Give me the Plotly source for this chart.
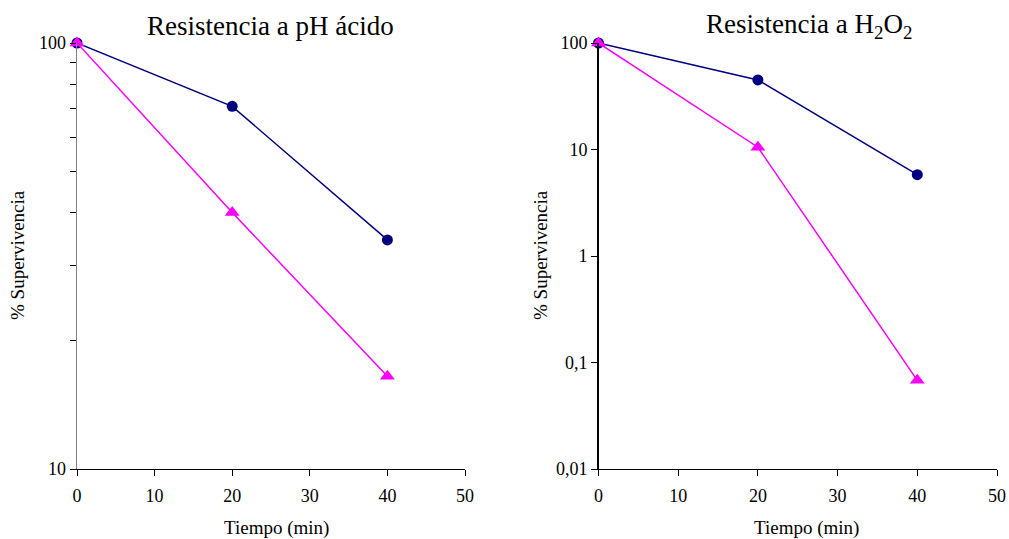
import plotly.graph_objects as go

tiempo = [0, 20, 40]
ph_cepa1 = [100, 71, 34.5]
ph_cepa2 = [100, 40, 16.5]
h2o2_cepa1 = [100, 45, 5.8]
h2o2_cepa2 = [100, 10.5, 0.068]

x_ticks = [0, 10, 20, 30, 40, 50]
left_y_ticks = [10, 100]
left_minor = [20, 30, 40, 50, 60, 70, 80, 90]
right_y_vals = [0.01, 0.1, 1, 10, 100]
right_y_text = ["0,01", "0,1", "1", "10", "100"]

NAVY = "#000080"
MAG = "#FF00FF"
FONT = "Liberation Serif"
W, H = 1009, 539


def px_x(v):
    return v / W


def px_y(v):
    return 1 - v / H


fig = go.Figure()


def add_series(x, y, color, symbol, size, xa, ya):
    fig.add_trace(go.Scatter(
        x=x, y=y, mode="lines+markers", xaxis=xa, yaxis=ya,
        line=dict(color=color, width=1.5),
        marker=dict(color=color, symbol=symbol, size=size, line=dict(width=0)),
        cliponaxis=False, showlegend=False, hoverinfo="skip"))


add_series(tiempo, ph_cepa1, NAVY, "circle", 11, "x", "y")
add_series(tiempo, ph_cepa2, MAG, "triangle-up", 13, "x", "y")
add_series(tiempo, h2o2_cepa1, NAVY, "circle", 11, "x2", "y2")
add_series(tiempo, h2o2_cepa2, MAG, "triangle-up", 13, "x2", "y2")

ydom = [px_y(469), px_y(43)]
tickfont = dict(family=FONT, size=18, color="black")

common_x = dict(range=[0, 50], tickmode="array", tickvals=x_ticks,
                ticks="outside", ticklen=6, tickcolor="black", showline=True,
                linecolor="black", linewidth=1.3, showgrid=False, zeroline=False,
                tickfont=tickfont, fixedrange=True, automargin=False,
                ticklabelstandoff=4)

fig.update_layout(
    width=W, height=H, margin=dict(l=0, r=0, t=0, b=0, autoexpand=False),
    paper_bgcolor="white", plot_bgcolor="white",
    xaxis=dict(domain=[px_x(77), px_x(465)], anchor="y", **common_x),
    xaxis2=dict(domain=[px_x(598.5), px_x(997)], anchor="y2", **common_x),
    yaxis=dict(domain=ydom, anchor="x", type="log", range=[1, 2],
               tickmode="array", tickvals=left_y_ticks,
               ticks="outside", ticklen=6, tickcolor="black",
               showline=True, linecolor="#808080", linewidth=1.3,
               showgrid=False, zeroline=False, tickfont=tickfont, automargin=False,
               fixedrange=True,
               minor=dict(tickmode="array", tickvals=left_minor,
                          ticks="outside", ticklen=6, tickcolor="black",
                          showgrid=False)),
    yaxis2=dict(domain=ydom, anchor="x2", type="log", range=[-2, 2],
                tickmode="array", tickvals=right_y_vals, ticktext=right_y_text,
                ticks="outside", ticklen=6, tickcolor="black",
                showline=True, linecolor="black", linewidth=1.3,
                showgrid=False, zeroline=False, tickfont=tickfont, automargin=False,
                fixedrange=True),
)


def ann(text, x, y, size, angle=0):
    fig.add_annotation(text=text, x=px_x(x), y=px_y(y), xref="paper", yref="paper",
                       xanchor="center", yanchor="middle", showarrow=False,
                       textangle=angle, font=dict(family=FONT, size=size, color="black"))


ann("Resistencia a pH ácido", 270, 26, 27)
ann("Resistencia a H<sub>2</sub>O<sub>2</sub>", 809, 26, 27)
ann("Tiempo (min)", 276, 528, 19)
ann("Tiempo (min)", 806, 528, 19)
ann("% Supervivencia", 18, 255, 19, -90)
ann("% Supervivencia", 541, 255, 19, -90)

fig.write_html(
    "out.html",
    config={"displayModeBar": False, "staticPlot": True},
    post_script="document.body.style.margin='0';document.body.style.overflow='hidden';",
)
